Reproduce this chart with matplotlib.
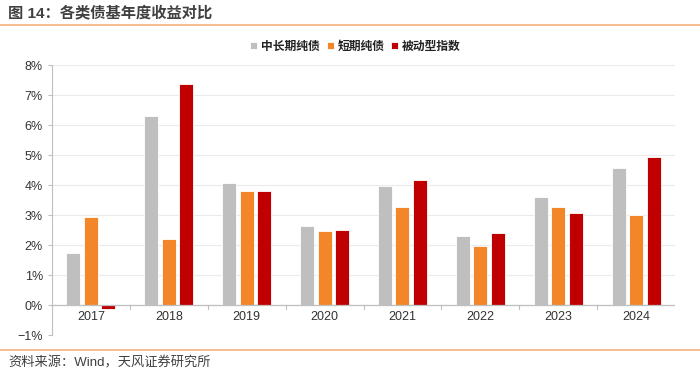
import matplotlib.pyplot as plt
import numpy as np
from matplotlib.ticker import FuncFormatter

plt.rcParams['font.family'] = ['Liberation Sans', 'Noto Sans CJK SC', 'DejaVu Sans']

years = ["2017", "2018", "2019", "2020", "2021", "2022", "2023", "2024"]
mid_long = [1.73, 6.30, 4.07, 2.63, 3.97, 2.30, 3.60, 4.57]
short = [2.93, 2.20, 3.80, 2.47, 3.27, 1.97, 3.27, 3.00]
passive = [-0.13, 7.37, 3.80, 2.50, 4.17, 2.40, 3.07, 4.93]
series_names = ["中长期纯债", "短期纯债", "被动型指数"]
colors = ["#BFBFBF", "#F4862A", "#C00000"]

fig = plt.figure(figsize=(7, 3.74), dpi=100)
ax = fig.add_axes([52 / 700, 39 / 374, 623 / 700, 270 / 374])

x = np.arange(len(years))
w = 0.18
step = 0.225
for i, (vals, name, c) in enumerate(zip([mid_long, short, passive], series_names, colors)):
    ax.bar(x + (i - 1) * step, vals, width=w, color=c, edgecolor="white",
           linewidth=0.6, label=name, zorder=3)

ax.set_xlim(-0.5, len(years) - 0.5)
ax.set_ylim(-1, 8)
ax.set_yticks(range(-1, 9))
ax.yaxis.set_major_formatter(FuncFormatter(lambda v, p: f"{int(v)}%".replace("-", "−")))
ax.grid(axis="y", color="#EBEBEB", linewidth=0.8, zorder=0)
ax.tick_params(axis="y", labelsize=9, colors="#333333", length=3, color="#BFBFBF")

# x axis drawn at 0 with separators between groups
ax.set_xticks([])
ax.axhline(0, color="#BFBFBF", linewidth=0.9, zorder=4)
for b in np.arange(0.5, len(years) - 0.5, 1):
    ax.plot([b, b], [0, -0.12], color="#BFBFBF", linewidth=0.8, clip_on=False, zorder=4)
for xi, yr in zip(x, years):
    ax.text(xi, -0.2, yr, ha="center", va="top", fontsize=9, color="#333333")

for s in ["top", "right", "bottom"]:
    ax.spines[s].set_visible(False)
ax.spines["left"].set_color("#BFBFBF")

leg = ax.legend(loc="upper center", bbox_to_anchor=(0.487, 1.13), ncol=3, frameon=False,
                fontsize=8.5, handlelength=0.6, handleheight=0.6, handletextpad=0.3,
                columnspacing=0.6)
for t in leg.get_texts():
    t.set_fontweight("bold")
    t.set_color("#222222")

fig.text(0.012, 0.965, "图 14：各类债基年度收益对比", fontsize=11, fontweight="bold",
         color="#404040", va="center", ha="left")
fig.add_artist(plt.Line2D([0, 1], [1 - 25 / 374, 1 - 25 / 374], color="#F7B27A", linewidth=1.2))
fig.add_artist(plt.Line2D([0, 1], [1 - 350 / 374, 1 - 350 / 374], color="#F7B27A", linewidth=1.2))
fig.text(0.012, 1 - 363 / 374, "资料来源：Wind，天风证券研究所", fontsize=9.5,
         color="#404040", va="center", ha="left")

fig.savefig("out.png", dpi=100)
